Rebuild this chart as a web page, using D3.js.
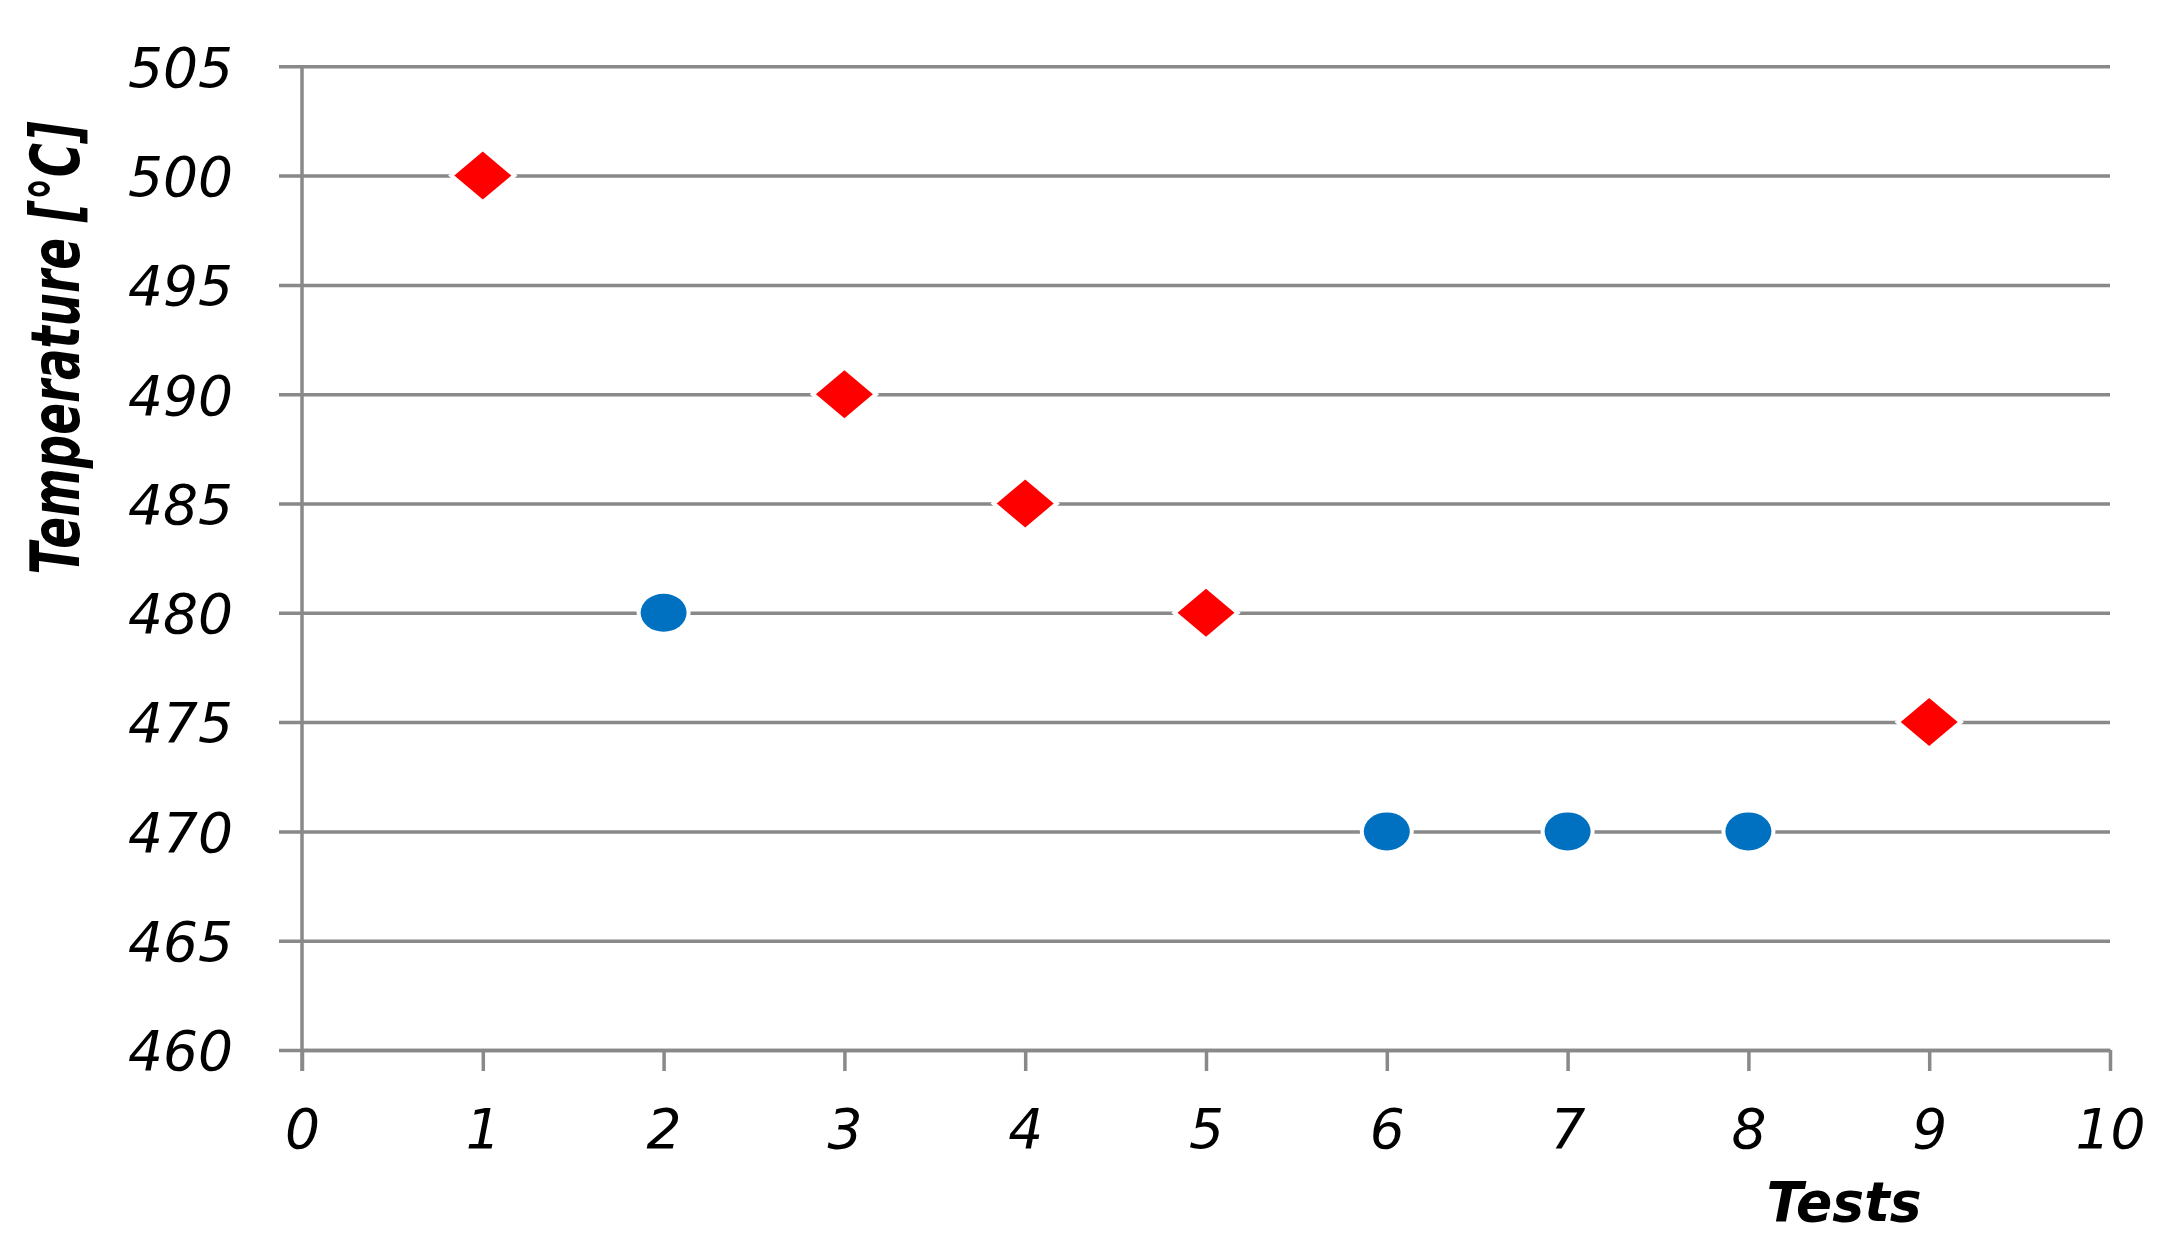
<!DOCTYPE html>
<html>
 <head>
  <title>Temperature tests</title>
  <script src="https://d3js.org/d3.v7.min.js"></script>
 </head>
 <body style="margin:0;background:#fff">
 <svg width="2174" height="1253"></svg>
 <script>
// data
var redTests = [1, 3, 4, 5, 9];
var redTemps = [500, 490, 485, 480, 475];
var blueTests = [2, 6, 7, 8];
var blueTemps = [480, 470, 470, 470];
var xTicks = [0, 1, 2, 3, 4, 5, 6, 7, 8, 9, 10];
var yTicks = [460, 465, 470, 475, 480, 485, 490, 495, 500, 505];

var svg = d3.select("svg");
var plotLeft = 302, plotRight = 2110, plotTop = 66.3, plotBottom = 1050;
var grid = "#898989";
var font = "'DejaVu Sans', Verdana, sans-serif";

var x = d3.scaleLinear().domain([0, 10]).range([plotLeft, plotRight]);
var y = d3.scaleLinear().domain([460, 505]).range([plotBottom, plotTop]);

// y axis with gridlines
var gy = svg.append("g").attr("transform", "translate(" + plotLeft + ",0)")
  .call(d3.axisLeft(y).tickValues(yTicks).tickSizeInner(-(plotRight - plotLeft)).tickSizeOuter(0));
gy.select(".domain").remove();
gy.selectAll(".tick line").attr("x1", -23).attr("x2", plotRight - plotLeft)
  .attr("stroke", grid).attr("stroke-width", 3.5);
gy.selectAll(".tick text").attr("x", -69).attr("dy", "0.36em")
  .attr("text-anchor", "end")
  .style("font-family", font).style("font-style", "italic").style("font-size", "55px")
  .attr("fill", "#000");

svg.append("line").attr("x1", plotLeft).attr("x2", plotLeft)
  .attr("y1", y(505)).attr("y2", plotBottom + 21)
  .attr("stroke", grid).attr("stroke-width", 3.5);

// x axis
var gx = svg.append("g").attr("transform", "translate(0," + plotBottom + ")")
  .call(d3.axisBottom(x).tickValues(xTicks).tickSizeInner(21).tickSizeOuter(0));
gx.select(".domain").attr("stroke", grid).attr("stroke-width", 3.5);
gx.selectAll(".tick line").attr("stroke", grid).attr("stroke-width", 3.5);
gx.selectAll(".tick text").attr("y", 98).attr("dy", 0)
  .style("font-family", font).style("font-style", "italic").style("font-size", "55px")
  .attr("fill", "#000");

// axis titles
svg.append("text")
  .attr("transform", "translate(79,348) rotate(-90)")
  .attr("text-anchor", "middle")
  .attr("textLength", 453).attr("lengthAdjust", "spacingAndGlyphs")
  .style("font-family", font).style("font-style", "italic").style("font-weight", "bold")
  .style("font-size", "67px")
  .text("Temperature [°C]");

svg.append("text")
  .attr("x", 1844).attr("y", 1221)
  .attr("text-anchor", "middle")
  .attr("textLength", 155).attr("lengthAdjust", "spacingAndGlyphs")
  .style("font-family", font).style("font-style", "italic").style("font-weight", "bold")
  .style("font-size", "56px")
  .text("Tests");

// markers
svg.selectAll(".blue")
  .data(d3.zip(blueTests, blueTemps))
  .enter().append("ellipse")
  .attr("class", "blue")
  .attr("cx", function(d) { return x(d[0]); })
  .attr("cy", function(d) { return y(d[1]); })
  .attr("rx", 23).attr("ry", 19)
  .attr("fill", "#0070C0")
  .attr("stroke", "#fff").attr("stroke-width", 8)
  .style("paint-order", "stroke");

svg.selectAll(".red")
  .data(d3.zip(redTests, redTemps))
  .enter().append("path")
  .attr("class", "red")
  .attr("d", "M-28.5,0L0,-24L28.5,0L0,24Z")
  .attr("transform", function(d) { return "translate(" + x(d[0]) + "," + y(d[1]) + ")"; })
  .attr("fill", "#FF0000")
  .attr("stroke", "#fff").attr("stroke-width", 8)
  .style("paint-order", "stroke");
 </script>
</body>
</html>
